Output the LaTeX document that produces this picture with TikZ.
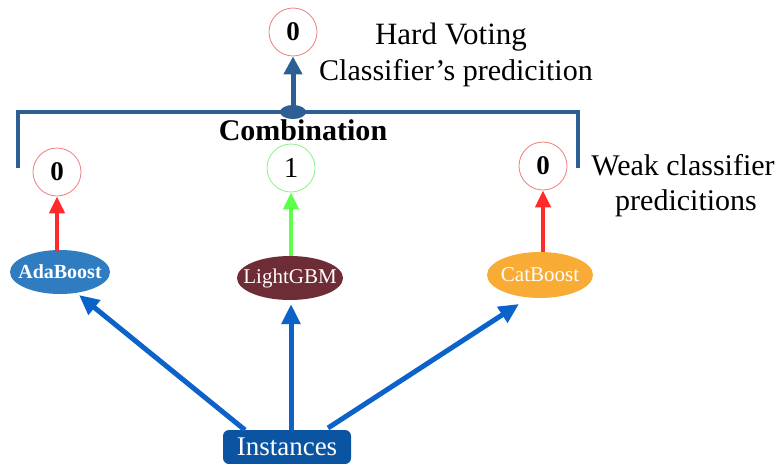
\documentclass[tikz,border=0pt]{standalone}
\usepackage{fontspec}
\setmainfont{Liberation Serif}
\usetikzlibrary{shapes.geometric,arrows.meta}
\definecolor{brk}{HTML}{2E5F94}
\definecolor{blu}{HTML}{0B63C9}
\definecolor{ada}{HTML}{2F7DC0}
\definecolor{lgb}{HTML}{6E2D36}
\definecolor{cat}{HTML}{F8AC36}
\definecolor{inst}{HTML}{0A54A2}
\definecolor{redc}{HTML}{F07C7C}
\definecolor{grnc}{HTML}{8AF08A}
\definecolor{reda}{HTML}{FF2A2A}
\definecolor{grna}{HTML}{5CFF4A}
\tikzset{
  vote/.style={circle,draw=#1,line width=0.8pt,minimum size=48pt,inner sep=0pt,font=\fontsize{27}{27}\selectfont\bfseries},
  algo/.style={ellipse,fill=#1,text=white,inner sep=0pt},
  lbl/.style={font=\fontsize{30}{30}\selectfont,inner sep=0pt},
  barrow/.style={line width=5pt,blu,-{Triangle[length=20pt,width=18pt]}},
  sarrow/.style={line width=4.5pt,#1,-{Triangle[length=17pt,width=15pt]}}
}
\begin{document}
\begin{tikzpicture}[x=1pt,y=-1pt]
\useasboundingbox (0,0) rectangle (778,463);
% top vote
\node[vote=redc] (top) at (293,32) {0};
\node[lbl,anchor=base,font=\fontsize{31}{31}\selectfont] (hv) at (451,44) {Hard Voting};
\node[lbl,anchor=base] (cp) at (456,80) {Classifier’s predicition};
% bracket
\coordinate (bl) at (18,168);
\coordinate (br) at (578,168);
\coordinate (bm) at (293,112);
\draw[brk,line width=4pt] (bl) |- (bm) -| (br);
\node[ellipse,fill=brk,minimum width=26pt,minimum height=14pt,inner sep=0pt] (dot) at (bm) {};
\draw[brk,line width=5pt,-{Triangle[length=18pt,width=18pt]}] (dot.center) -- (top);
\node[font=\fontsize{30}{30}\selectfont\bfseries,anchor=base,inner sep=0pt] (comb) at (303,140) {Combination};
% weak votes
\node[vote=redc] (v1) at (57,172) {0};
\node[vote=grnc,font=\fontsize{29}{29}\selectfont] (v2) at (291,168) {1};
\node[vote=redc] (v3) at (543,166) {0};
\node[lbl,anchor=base] (wc) at (683,175) {Weak classifier};
\node[lbl,anchor=base] (pr) at (686,210) {predicitions};
% algorithms
\node[algo=ada,minimum width=100pt,minimum height=44pt,font=\fontsize{20}{20}\selectfont\bfseries] (ada) at (60,272) {\makebox[0pt]{AdaBoost}};
\node[algo=lgb,minimum width=106pt,minimum height=44pt,font=\fontsize{21}{21}\selectfont] (lgb) at (290,278) {\makebox[0pt]{LightGBM}};
\node[algo=cat,minimum width=106pt,minimum height=46pt,font=\fontsize{21}{21}\selectfont] (cat) at (540,275) {\makebox[0pt]{CatBoost}};
\coordinate (a1) at (57,252);
\coordinate (a2) at (291,256);
\coordinate (a3) at (543,252);
\draw[sarrow=reda] (a1) -- (v1);
\draw[sarrow=grna] (a2) -- (v2);
\draw[sarrow=reda] (a3) -- (v3);
% instances
\node[fill=inst,rounded corners=6pt,minimum width=128pt,minimum height=34pt,text=white,font=\fontsize{27}{27}\selectfont,inner sep=0pt] (ins) at (287,447) {Instances};
\coordinate (s1) at (245,430);
\coordinate (s2) at (291,430);
\coordinate (s3) at (328,428);
\coordinate (t1) at (79,295);
\coordinate (t2) at (291,304);
\coordinate (t3) at (519,304);
\draw[barrow] (s1) -- (t1);
\draw[barrow] (s2) -- (t2);
\draw[barrow] (s3) -- (t3);
\end{tikzpicture}
\end{document}
